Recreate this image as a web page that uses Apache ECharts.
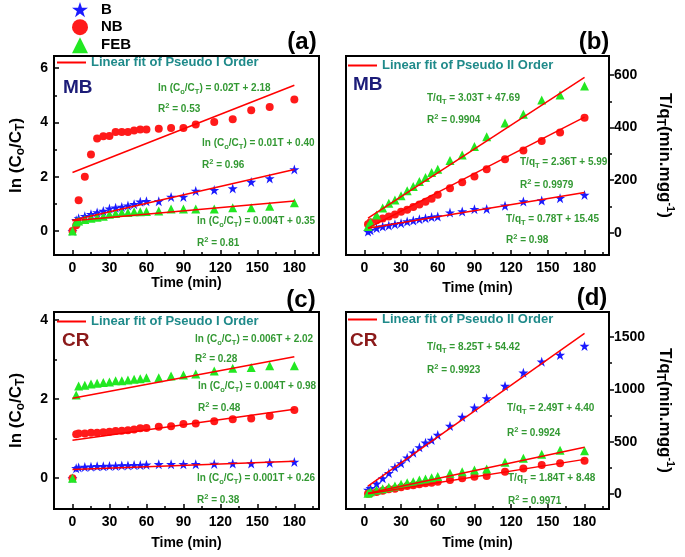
<!DOCTYPE html>
<html><head><meta charset="utf-8">
<script src="https://cdn.jsdelivr.net/npm/echarts@6/dist/echarts.min.js"></script>
<style>html,body{margin:0;padding:0;background:#fff}#c{width:685px;height:557px}</style>
</head><body><div id="c"></div>
<script>
const FONT = '"Liberation Sans", Arial, sans-serif';

// ---- time values ----
const T  = [0,3,5,10,15,20,25,30,35,40,45,50,55,60,70,80,90,100,115,130,145,160,180];
const T2 = [3,5,10,15,20,25,30,35,40,45,50,55,60,70,80,90,100,115,130,145,160,180];
const fitT1 = [0,180];
const fitT2 = [3,180];

// ---- tick values ----
const xTicks = [0,30,60,90,120,150,180];
const xMinor = [15,45,75,105,135,165,195];
const aTicks = [0,2,4,6],        aMinor = [1,3,5];
const bTicks = [0,200,400,600],  bMinor = [100,300,500];
const cTicks = [0,2,4],          cMinor = [1,3];
const dTicks = [0,500,1000,1500],dMinor = [250,750,1250];

// ---- (a) MB, pseudo first order: ln(Co/CT) ----
const aB   = [0,0.40,0.47,0.55,0.62,0.69,0.74,0.83,0.86,0.89,0.94,0.99,1.08,1.10,1.10,1.26,1.26,1.48,1.51,1.57,1.81,1.94,2.27];
const aNB  = [0,0.22,1.14,2.00,2.82,3.41,3.49,3.50,3.65,3.65,3.65,3.71,3.74,3.74,3.77,3.80,3.80,3.93,4.02,4.12,4.45,4.57,4.85];
const aFEB = [0,0.34,0.37,0.43,0.47,0.51,0.55,0.62,0.65,0.69,0.69,0.71,0.71,0.72,0.74,0.81,0.81,0.81,0.81,0.86,0.86,0.92,1.04];
const aFitB = [0.40,2.27], aFitNB = [2.16,5.37], aFitFEB = [0.38,1.11];

// ---- (b) MB, pseudo second order: T/qT ----
const bB   = [5,10,18,24,28,33,37,43,47,52,56,60,62,77,81,90,91,103,119,123,132,144];
const bNB  = [33,40,48,55,62,70,80,88,98,108,118,130,145,170,192,214,242,280,313,349,381,437];
const bFEB = [24,40,68,95,113,125,141,160,176,195,210,229,242,275,296,328,365,417,451,505,524,558];
const bFitB = [18,153], bFitNB = [18,440], bFitFEB = [56,591];

// ---- (c) CR, pseudo first order ----
const cB   = [0,0.25,0.27,0.28,0.29,0.30,0.30,0.31,0.31,0.32,0.32,0.33,0.33,0.34,0.35,0.35,0.35,0.35,0.36,0.37,0.37,0.39,0.41];
const cNB  = [0,1.11,1.13,1.13,1.15,1.15,1.16,1.17,1.19,1.20,1.21,1.23,1.26,1.27,1.30,1.31,1.37,1.38,1.44,1.49,1.51,1.57,1.72];
const cFEB = [0,2.10,2.33,2.35,2.38,2.40,2.42,2.43,2.46,2.46,2.48,2.50,2.51,2.54,2.54,2.58,2.61,2.63,2.71,2.78,2.80,2.84,2.84];
const cFitB = [0.22,0.43], cFitNB = [0.96,1.74], cFitFEB = [2.02,3.07];

// ---- (d) CR, pseudo second order ----
const dB   = [40,55,98,150,200,255,293,347,395,446,490,516,564,650,736,825,914,1032,1159,1264,1328,1414];
const dNB  = [3,7,19,32,45,51,64,76,83,93,102,108,118,134,150,165,172,213,245,277,293,318];
const dFEB = [7,22,38,51,64,76,93,108,118,134,143,155,168,198,213,229,239,303,341,379,418,414];
const dFitB = [76,1535], dFitNB = [2,331], dFitFEB = [7,446];

const FIT1 = 'Linear fit of Pseudo I Order';
const FIT2 = 'Linear fit of Pseudo II Order';

const COL = {B:'#1a1aff', NB:'#ff1a1a', FEB:'#22e822'};
const STAR = 'path://M50,0L61.8,35.1L98.8,35.1L68.9,57L80.3,92.3L50,70.5L19.7,92.3L31.1,57L1.2,35.1L38.2,35.1Z';
const SYM = {B:STAR, NB:'circle', FEB:'triangle'};
const SIZE = {B:10, NB:8, FEB:9};

const pts = (ts, vs) => ts.map((t,i)=>[t, vs[i]]);

const grids = [
  {left:54,  top:56,  width:265, height:199},
  {left:346, top:56,  width:263, height:199},
  {left:54,  top:312, width:265, height:197},
  {left:346, top:312, width:263, height:197}
];

const tickLine = {color:'#000', width:1.5};
const labelStyle = {color:'#000', fontWeight:'bold', fontSize:14, fontFamily:FONT, formatter: v => String(v)};
const xGaps = [20,26,27,27];
const noLine = {show:false, onZero:false};

const xAxis = [], yAxis = [];
const yCfg = [
  {min:-0.88, max:6.45, ticks:aTicks, minor:aMinor, pos:'left'},
  {min:-84,   max:672,  ticks:bTicks, minor:bMinor, pos:'right'},
  {min:-0.78, max:4.2,  ticks:cTicks, minor:cMinor, pos:'left'},
  {min:-143,  max:1739, ticks:dTicks, minor:dMinor, pos:'right'}
];
const titleRich = {
  n:{fontSize:17, fontWeight:'bold', fontFamily:FONT, color:'#000', lineHeight:22, verticalAlign:'middle'},
  s:{fontSize:12, fontWeight:'bold', fontFamily:FONT, color:'#000', lineHeight:12, verticalAlign:'bottom'},
  p:{fontSize:11, fontWeight:'bold', fontFamily:FONT, color:'#000', lineHeight:11, verticalAlign:'top'}
};
const yNames = [
  '{n|ln (C}{s|o}{n|/C}{s|T}{n|)}',
  '{n|T/q}{s|T}{n|(min.mgg}{p|-1}{n|)}',
  '{n|ln (C}{s|o}{n|/C}{s|T}{n|)}',
  '{n|T/q}{s|T}{n|(min.mgg}{p|-1}{n|)}'
];
for (let g=0; g<4; g++) {
  xAxis.push({type:'value', gridIndex:g, min:-15, max:200, position:'bottom',
    axisLine:noLine, splitLine:{show:false},
    axisTick:{inside:true, length:5, lineStyle:tickLine, customValues:xTicks},
    axisLabel:Object.assign({customValues:xTicks, margin:6}, labelStyle),
    name:'Time (min)', nameLocation:'middle', nameGap:xGaps[g],
    nameTextStyle:{color:'#000', fontWeight:'bold', fontSize:14, fontFamily:FONT}});
  xAxis.push({type:'value', gridIndex:g, min:-15, max:200, position:'bottom',
    axisLine:noLine, splitLine:{show:false},
    axisTick:{inside:true, length:3, lineStyle:tickLine, customValues:xMinor},
    axisLabel:{show:false}});
  const c = yCfg[g];
  const left = c.pos==='left';
  yAxis.push({type:'value', gridIndex:g, min:c.min, max:c.max, position:c.pos,
    axisLine:noLine, splitLine:{show:false},
    axisTick:{inside:left, length:5, lineStyle:tickLine, customValues:c.ticks},
    axisLabel:Object.assign({customValues:c.ticks, margin:left?6:5}, labelStyle),
    name:yNames[g], nameLocation:'middle', nameRotate:left?90:-90, nameGap:left?27:45,
    nameTextStyle:{rich:titleRich}});
  yAxis.push({type:'value', gridIndex:g, min:c.min, max:c.max, position:c.pos,
    axisLine:noLine, splitLine:{show:false},
    axisTick:{inside:left, length:3, lineStyle:tickLine, customValues:c.minor},
    axisLabel:{show:false}});
}

const series = [];
function addPanel(g, ts, B, NB, FEB, fitT, fB, fNB, fFEB, fitName) {
  const sets = {B, NB, FEB};
  for (const k of ['B','NB','FEB']) {
    series.push({type:'scatter', name:k, xAxisIndex:2*g, yAxisIndex:2*g,
      data:pts(ts, sets[k]), symbol:SYM[k], symbolSize:SIZE[k],
      itemStyle:{color:COL[k], opacity:1}, z:3});
  }
  for (const f of [fB, fNB, fFEB]) {
    series.push({type:'line', name:fitName, xAxisIndex:2*g, yAxisIndex:2*g,
      data:pts(fitT, f), showSymbol:false, symbol:'none', color:'#ff0000',
      lineStyle:{color:'#ff0000', width:1.5}, z:4});
  }
}
addPanel(0, T,  aB, aNB, aFEB, fitT1, aFitB, aFitNB, aFitFEB, FIT1);
addPanel(1, T2, bB, bNB, bFEB, fitT2, bFitB, bFitNB, bFitFEB, FIT2);
addPanel(2, T,  cB, cNB, cFEB, fitT1, cFitB, cFitNB, cFitFEB, FIT1);
addPanel(3, T2, dB, dNB, dFEB, fitT2, dFitB, dFitNB, dFitFEB, FIT2);

const fitLegend = (name, left, top) => ({
  data:[{name, icon:'rect'}], left, top, padding:0, itemWidth:29, itemHeight:2,
  selectedMode:false,
  textStyle:{color:'#1f8a8a', fontWeight:'bold', fontSize:13, fontFamily:FONT}
});

const EQC = '#339933';
const eqRich = {
  n:{fontSize:10, fontWeight:'bold', fontFamily:FONT, lineHeight:15, verticalAlign:'middle'},
  s:{fontSize:7.5, fontWeight:'bold', fontFamily:FONT, lineHeight:8, verticalAlign:'bottom'},
  p:{fontSize:7.5, fontWeight:'bold', fontFamily:FONT, lineHeight:8, verticalAlign:'top'}
};
const eqs = [
  [158, 88, '{n|ln (C}{s|o}{n|/C}{s|T}{n|) = 0.02T + 2.18}'],
  [158,109, '{n|R}{p|2}{n| = 0.53}'],
  [202,143, '{n|ln (C}{s|o}{n|/C}{s|T}{n|) = 0.01T + 0.40}'],
  [202,165, '{n|R}{p|2}{n| = 0.96}'],
  [197,221, '{n|ln (C}{s|o}{n|/C}{s|T}{n|) = 0.004T + 0.35}'],
  [197,243, '{n|R}{p|2}{n| = 0.81}'],
  [427, 98, '{n|T/q}{s|T}{n| = 3.03T + 47.69}'],
  [427,120, '{n|R}{p|2}{n| = 0.9904}'],
  [520,162, '{n|T/q}{s|T}{n| = 2.36T + 5.99}'],
  [520,185, '{n|R}{p|2}{n| = 0.9979}'],
  [506,219, '{n|T/q}{s|T}{n| = 0.78T + 15.45}'],
  [506,240, '{n|R}{p|2}{n| = 0.98}'],
  [195,339, '{n|ln (C}{s|o}{n|/C}{s|T}{n|) = 0.006T + 2.02}'],
  [195,359, '{n|R}{p|2}{n| = 0.28}'],
  [198,386, '{n|ln (C}{s|o}{n|/C}{s|T}{n|) = 0.004T + 0.98}'],
  [198,408, '{n|R}{p|2}{n| = 0.48}'],
  [197,478, '{n|ln (C}{s|o}{n|/C}{s|T}{n|) = 0.001T + 0.26}'],
  [197,500, '{n|R}{p|2}{n| = 0.38}'],
  [427,347, '{n|T/q}{s|T}{n| = 8.25T + 54.42}'],
  [427,370, '{n|R}{p|2}{n| = 0.9923}'],
  [507,408, '{n|T/q}{s|T}{n| = 2.49T + 4.40}'],
  [507,433, '{n|R}{p|2}{n| = 0.9924}'],
  [508,478, '{n|T/q}{s|T}{n| = 1.84T + 8.48}'],
  [508,501, '{n|R}{p|2}{n| = 0.9971}']
];
const graphic = eqs.map(([x,y,t]) => ({type:'text', x, y, z:10,
  style:{text:t, rich:eqRich, fill:EQC, fontSize:10, fontWeight:'bold', fontFamily:FONT, align:'left', verticalAlign:'middle'}}));
const bigText = (x,y,t,size,color,align) => ({type:'text', x, y, z:10,
  style:{text:t, fill:color, fontSize:size, fontWeight:'bold', fontFamily:FONT, align:align||'center', verticalAlign:'middle'}});
graphic.push(bigText(302,42,'(a)',24,'#000'));
graphic.push(bigText(594,42,'(b)',24,'#000'));
graphic.push(bigText(301,300,'(c)',24,'#000'));
graphic.push(bigText(592,298,'(d)',24,'#000'));
graphic.push(bigText(63,88,'MB',19,'#1c1c78','left'));
graphic.push(bigText(353,85,'MB',19,'#1c1c78','left'));
graphic.push(bigText(62,341,'CR',19,'#8b1a1a','left'));
graphic.push(bigText(350,341,'CR',19,'#8b1a1a','left'));

const option = {
  animation:false,
  backgroundColor:'#fff',
  grid: grids.map(g => Object.assign({show:true, borderColor:'#000', borderWidth:2, backgroundColor:'transparent'}, g)),
  xAxis, yAxis, series, graphic,
  legend:[
    {data:['B','NB','FEB'], orient:'vertical', left:72, top:2, padding:0,
     itemWidth:16, itemHeight:16, itemGap:2, selectedMode:false,
     textStyle:{fontSize:15, fontWeight:'bold', color:'#000', fontFamily:FONT, padding:[0,0,0,8]}},
    fitLegend(FIT1, 57, 56),
    fitLegend(FIT2, 348, 59),
    fitLegend(FIT1, 57, 315),
    fitLegend(FIT2, 348, 313)
  ]
};
echarts.init(document.getElementById('c')).setOption(option);
</script></body></html>
